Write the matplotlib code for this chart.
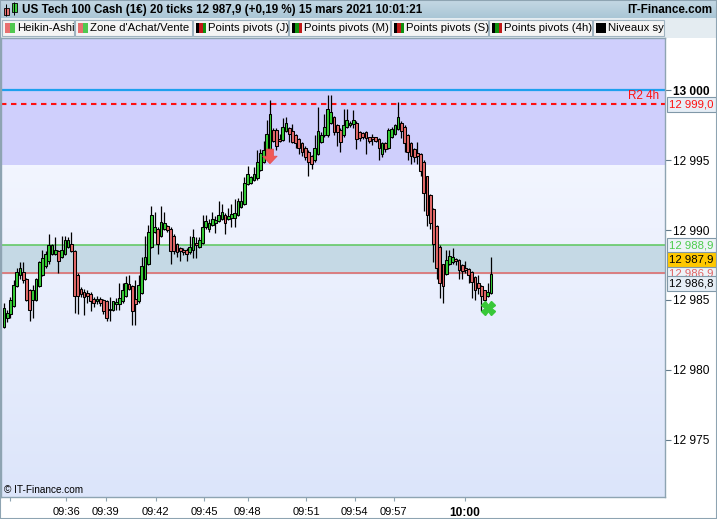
import matplotlib.pyplot as plt
import numpy as np
from matplotlib.patches import Rectangle

W, H = 717, 519
plt.rcParams['font.family'] = ['Liberation Sans', 'DejaVu Sans']

# Heikin-Ashi candles (20 ticks each)
candles = [
    (12983.1, 12984.8, 12983.0, 12984.4), (12983.7, 12984.3, 12983.4, 12984.1),
    (12984.0, 12985.2, 12983.7, 12985.0), (12984.6, 12986.4, 12984.5, 12986.1),
    (12986.0, 12987.3, 12985.9, 12987.0), (12986.8, 12987.7, 12986.5, 12987.3),
    (12987.0, 12987.7, 12986.2, 12986.4), (12986.5, 12986.6, 12984.9, 12985.0),
    (12985.7, 12985.8, 12983.5, 12984.3), (12985.0, 12986.1, 12983.7, 12985.7),
    (12985.0, 12986.6, 12984.9, 12986.5), (12986.0, 12987.8, 12985.9, 12987.7),
    (12986.8, 12988.6, 12986.7, 12988.0), (12987.4, 12988.5, 12987.3, 12988.3),
    (12987.8, 12989.7, 12987.6, 12988.9), (12988.3, 12989.0, 12988.2, 12988.9),
    (12988.3, 12989.5, 12988.2, 12988.6), (12988.5, 12988.6, 12986.9, 12987.8),
    (12988.1, 12989.6, 12988.0, 12988.6), (12988.3, 12989.6, 12988.2, 12989.3),
    (12988.8, 12989.5, 12988.7, 12989.3), (12989.0, 12989.9, 12988.4, 12988.5),
    (12988.5, 12988.6, 12984.1, 12985.3), (12986.8, 12986.9, 12984.0, 12985.3),
    (12985.8, 12985.9, 12985.2, 12985.4), (12985.6, 12985.8, 12983.9, 12985.2),
    (12985.5, 12985.7, 12984.8, 12985.3), (12985.4, 12985.6, 12984.2, 12984.9),
    (12985.1, 12985.2, 12984.5, 12984.8), (12984.9, 12985.3, 12984.7, 12985.1),
    (12985.1, 12985.2, 12984.6, 12984.8), (12985.0, 12985.1, 12984.0, 12984.2),
    (12984.9, 12985.0, 12983.5, 12983.7), (12984.3, 12985.2, 12983.5, 12984.35),
    (12984.3, 12984.95, 12984.2, 12984.9), (12984.7, 12985.15, 12984.3, 12984.85),
    (12984.7, 12986.2, 12984.3, 12985.15), (12984.9, 12986.2, 12984.8, 12985.75),
    (12985.3, 12986.7, 12985.2, 12986.2), (12986.15, 12986.8, 12985.7, 12985.8),
    (12986.0, 12986.1, 12983.2, 12984.2), (12985.1, 12986.4, 12983.2, 12984.7),
    (12984.9, 12986.8, 12984.8, 12986.1), (12985.5, 12988.1, 12985.4, 12987.4),
    (12986.5, 12989.6, 12986.4, 12988.1), (12987.6, 12990.4, 12987.5, 12989.9),
    (12988.8, 12991.7, 12988.7, 12991.05), (12989.9, 12991.3, 12989.8, 12990.2),
    (12990.1, 12990.2, 12988.3, 12989.0), (12989.6, 12991.7, 12989.5, 12990.6),
    (12990.1, 12991.3, 12990.0, 12990.5), (12990.3, 12990.4, 12989.9, 12990.0),
    (12990.1, 12990.2, 12987.55, 12988.5), (12989.6, 12989.7, 12988.3, 12988.5),
    (12989.0, 12989.1, 12988.1, 12988.4), (12988.7, 12988.8, 12987.8, 12988.5),
    (12988.6, 12988.7, 12988.2, 12988.45), (12988.6, 12988.7, 12987.8, 12988.3),
    (12988.4, 12989.6, 12988.3, 12988.8), (12988.6, 12990.1, 12988.0, 12989.5),
    (12989.1, 12989.5, 12988.0, 12988.9), (12988.8, 12989.5, 12988.7, 12989.3),
    (12989.1, 12991.1, 12989.0, 12990.2), (12990.2, 12991.1, 12990.1, 12990.65),
    (12990.05, 12990.8, 12989.9, 12990.5), (12990.4, 12991.3, 12990.3, 12990.8),
    (12990.5, 12991.0, 12989.8, 12990.7), (12990.65, 12992.1, 12990.6, 12991.1),
    (12990.8, 12991.9, 12990.7, 12991.3), (12991.1, 12991.2, 12989.75, 12990.5),
    (12990.8, 12991.6, 12990.7, 12991.0), (12990.9, 12991.9, 12990.2, 12991.15),
    (12990.9, 12992.2, 12990.2, 12991.2), (12991.1, 12992.3, 12991.0, 12992.1),
    (12991.65, 12992.8, 12991.6, 12992.1), (12991.85, 12993.8, 12991.8, 12993.4),
    (12993.3, 12994.6, 12993.2, 12994.0), (12993.35, 12993.9, 12993.3, 12993.8),
    (12993.6, 12994.55, 12993.5, 12994.0), (12993.7, 12995.7, 12993.6, 12994.85),
    (12994.3, 12995.8, 12994.2, 12995.55), (12994.9, 12996.4, 12994.8, 12995.7),
    (12995.3, 12997.85, 12995.2, 12996.9), (12995.8, 12999.3, 12995.7, 12998.3),
    (12997.2, 12997.3, 12996.3, 12996.4), (12997.2, 12997.3, 12995.7, 12996.0),
    (12996.55, 12996.9, 12996.3, 12996.4), (12996.45, 12998.0, 12996.4, 12997.35),
    (12997.1, 12998.1, 12997.0, 12997.7), (12997.3, 12997.4, 12996.3, 12996.9),
    (12997.1, 12997.6, 12996.2, 12996.3), (12996.8, 12996.9, 12995.85, 12996.2),
    (12996.5, 12996.6, 12995.45, 12995.9), (12996.2, 12996.3, 12995.3, 12995.6),
    (12995.9, 12996.0, 12995.0, 12995.2), (12995.6, 12995.7, 12993.9, 12994.85),
    (12995.3, 12995.4, 12994.4, 12994.75), (12995.0, 12996.8, 12994.9, 12995.9),
    (12995.45, 12998.8, 12995.4, 12997.1), (12996.3, 12997.0, 12996.2, 12996.8),
    (12996.8, 12998.3, 12996.7, 12997.4), (12996.8, 12999.7, 12996.7, 12998.7),
    (12997.7, 12999.7, 12997.6, 12998.45), (12998.1, 12998.2, 12996.8, 12997.05),
    (12997.5, 12997.6, 12996.05, 12997.0), (12997.2, 12997.3, 12995.6, 12996.3),
    (12996.8, 12998.7, 12996.7, 12997.5), (12997.4, 12998.7, 12997.3, 12997.9),
    (12997.5, 12997.8, 12997.4, 12997.7), (12997.6, 12998.6, 12997.3, 12997.85),
    (12997.7, 12997.8, 12995.8, 12996.5), (12997.0, 12997.1, 12996.4, 12996.6),
    (12996.95, 12997.0, 12996.5, 12996.7), (12997.0, 12997.1, 12995.45, 12996.6),
    (12996.65, 12996.7, 12996.2, 12996.4), (12996.65, 12996.9, 12996.1, 12996.5),
    (12996.65, 12996.7, 12996.3, 12996.4), (12996.5, 12996.6, 12995.0, 12995.9),
    (12995.45, 12996.3, 12995.2, 12996.2), (12996.2, 12996.3, 12995.6, 12995.8),
    (12995.86, 12997.3, 12995.8, 12997.2), (12996.65, 12997.35, 12996.6, 12997.25),
    (12996.9, 12997.6, 12996.8, 12997.5), (12997.25, 12999.2, 12997.2, 12998.1),
    (12997.7, 12997.8, 12996.6, 12997.1), (12997.4, 12997.5, 12995.6, 12996.2),
    (12996.8, 12996.9, 12995.0, 12995.6), (12996.2, 12996.3, 12994.75, 12995.3),
    (12995.8, 12995.9, 12994.85, 12995.2), (12995.5, 12996.3, 12994.75, 12995.3),
    (12995.45, 12995.5, 12993.85, 12994.25), (12994.9, 12995.0, 12991.4, 12992.65),
    (12993.85, 12993.9, 12990.3, 12991.1), (12992.5, 12992.6, 12990.1, 12990.5),
    (12991.5, 12991.6, 12987.7, 12989.0), (12990.3, 12990.4, 12986.5, 12987.3),
    (12988.8, 12988.9, 12985.15, 12986.2), (12987.55, 12987.6, 12984.75, 12986.0),
    (12986.83, 12988.6, 12986.8, 12987.86), (12987.55, 12988.6, 12987.5, 12988.15),
    (12987.7, 12988.75, 12987.6, 12988.05), (12987.9, 12988.0, 12987.5, 12987.8),
    (12987.86, 12987.9, 12986.47, 12987.14), (12987.5, 12987.55, 12986.5, 12987.07),
    (12987.3, 12987.8, 12986.9, 12987.15), (12987.24, 12987.3, 12986.2, 12986.76),
    (12987.0, 12987.1, 12985.15, 12986.3), (12986.66, 12986.7, 12985.0, 12985.75),
    (12986.2, 12986.8, 12985.4, 12985.85), (12986.0, 12986.1, 12984.2, 12985.3),
    (12985.7, 12985.75, 12984.7, 12985.0), (12985.3, 12986.2, 12985.2, 12985.6),
    (12985.5, 12988.1, 12985.4, 12986.83),
]
opens = [c[0] for c in candles]
highs = [c[1] for c in candles]
lows = [c[2] for c in candles]
closes = [c[3] for c in candles]

time_ticks = [1.9, 19.4, 31.7, 47.4, 62.4, 76.0, 94.4, 109.5, 121.6, 143.9]
time_labels = ['', '09:36', '09:39', '09:42', '09:45', '09:48', '09:51', '09:54', '09:57', '10:00']
price_ticks = [12975, 12980, 12985, 12990, 12995, 13000]

zone_edge = 12994.6          # lower edge of the sell zone
band_hi, band_lo = 12988.9, 12986.9
level_13000 = 13000.0
r2_4h = 12999.0
last_price = 12987.9
ha_close = 12986.8
sell_idx, sell_top, sell_bot = 83, 12995.8, 12994.75
buy_idx, buy_price = 151, 12984.4

fig = plt.figure(figsize=(W / 100, H / 100), dpi=100)
fig.patch.set_facecolor('white')


def px_axes(x0, y0, x1, y1):
    return fig.add_axes([x0 / W, 1 - y1 / H, (x1 - x0) / W, (y1 - y0) / H])


# ---- title bar
ah = px_axes(0, 0, W, 18)
ah.set_xlim(0, W)
ah.set_ylim(18, 0)
ah.axis('off')
grad = np.linspace(0, 1, 20)[:, None]
top_c = np.array([196, 216, 228]) / 255
bot_c = np.array([170, 198, 214]) / 255
ah.imshow(top_c + (bot_c - top_c) * grad[:, :, None], extent=[0, W, 18, 0], aspect='auto')
ah.vlines(6, 4, 16, color='black', lw=0.7)
ah.add_patch(Rectangle((3.5, 8), 5, 7, fc='#e87070', ec='black', lw=0.6))
ah.vlines(14, 1.5, 15, color='black', lw=0.7)
ah.add_patch(Rectangle((11.5, 3), 5, 9, fc='#40d040', ec='black', lw=0.6))
ah.text(22, 10, 'US Tech 100 Cash (1€) 20 ticks 12 987,9 (+0,19 %) 15 mars 2021 10:01:21',
        fontsize=8.4, fontweight='bold', va='center', ha='left')
ah.text(712, 10, 'IT-Finance.com', fontsize=8.4, fontweight='bold', va='center', ha='right')

# ---- indicator toolbar
at = px_axes(0, 18, W, 38)
at.set_xlim(0, W)
at.set_ylim(38, 18)
at.axis('off')
at.add_patch(Rectangle((0, 18), W, 20, fc='#e4ecf1', ec='none'))
buttons = [
    (2, 74, 'Heikin-Ashi', ['#e87070', '#50c850']),
    (75, 192, "Zone d'Achat/Vente", ['#e87070', '#50c850']),
    (193, 288, 'Points pivots (J)', ['black', '#c01818', '#109010']),
    (289, 390, 'Points pivots (M)', ['black', '#109010', '#c01818']),
    (391, 488, 'Points pivots (S)', ['black', '#c01818', '#109010']),
    (489, 592, 'Points pivots (4h)', ['black', '#109010', '#c01818']),
    (593, 664, 'Niveaux sy', ['black']),
]
for x0, x1, name, cols in buttons:
    at.add_patch(Rectangle((x0, 19.5), x1 - x0, 16, fc='#f4f4f4', ec='#9fb3c0', lw=0.8))
    w = 10 / len(cols)
    for k, c in enumerate(cols):
        at.add_patch(Rectangle((x0 + 3 + k * w, 22.5), w, 10, fc=c, ec='none'))
    at.text(x0 + 15, 28, name, fontsize=8.2, va='center', ha='left', clip_on=True)

# ---- main chart
ax = px_axes(1, 38, 665, 497)
n = len(candles)
xs = np.arange(n)
x_lo, x_hi = -0.94, 206.3
y_lo, y_hi = 12970.9, 13003.75
ax.set_xlim(x_lo, x_hi)
ax.set_ylim(y_lo, y_hi)

ax.axhspan(zone_edge, y_hi, color='#cfcffc', zorder=0)
lc_top = np.array([242, 245, 255]) / 255
lc_bot = np.array([220, 229, 250]) / 255
g = np.linspace(0, 1, 100)[:, None]
ax.imshow(lc_top + (lc_bot - lc_top) * g[:, :, None],
          extent=[x_lo, x_hi, y_lo, zone_edge], aspect='auto', zorder=0)
ax.axhspan(band_lo, band_hi, color='#c5d9e5', zorder=1)
ax.axhline(band_hi, color='#5cc85c', lw=1.1, zorder=2)
ax.axhline(band_lo, color='#e06464', lw=1.1, zorder=2)
ax.axhline(level_13000, color='#1ea0ee', lw=1.6, zorder=2)
ax.axhline(r2_4h, color='#ff1010', lw=1.5, dashes=(2.6, 2.2), zorder=2)
ax.text(x_hi - 1.8, r2_4h + 0.15, 'R2 4h', color='#ff1010', fontsize=8.4,
        ha='right', va='bottom', zorder=3)

body_lo = [min(o, c) for o, c in zip(opens, closes)]
body_h = [abs(c - o) for o, c in zip(opens, closes)]
colors = ['#36cc36' if c >= o else '#e46a6a' for o, c in zip(opens, closes)]
ax.vlines(xs, lows, highs, color='black', lw=0.9, zorder=4)
ax.bar(xs, body_h, bottom=body_lo, width=0.86, color=colors,
       edgecolor='black', linewidth=0.75, zorder=5)

# sell signal (down arrow) and buy signal (green cross)
ax.annotate('', xy=(sell_idx, sell_bot), xytext=(sell_idx, sell_top),
            arrowprops=dict(arrowstyle='simple,head_length=0.42,head_width=0.8,tail_width=0.4',
                            fc='#f05858', ec='#e44c4c', lw=0.5, mutation_scale=13,
                            shrinkA=0, shrinkB=0),
            zorder=6)
ax.plot([buy_idx], [buy_price], marker='X', ms=9.5, color='#38c838', mec='#38c838', zorder=6)

ax.text(0.004, 0.004, '© IT-Finance.com', transform=ax.transAxes, fontsize=7.2,
        ha='left', va='bottom', zorder=6)

for s in ax.spines.values():
    s.set_color('#8ea4b2')
    s.set_linewidth(1)

ax.set_xticks(time_ticks)
ax.set_xticklabels(time_labels)
ax.tick_params(axis='x', direction='out', length=3, pad=4, labelsize=8,
               color='#8ea4b2')
for lab in ax.get_xticklabels():
    if lab.get_text() == '10:00':
        lab.set_fontweight('bold')
        lab.set_fontsize(8.6)

ax.yaxis.tick_right()
ax.set_yticks(price_ticks)
ax.set_yticklabels([f'{p:,}'.replace(',', ' ') for p in price_ticks])
ax.tick_params(axis='y', direction='out', length=4, pad=1.5, labelsize=8.6,
               color='#607888')
for lab in ax.get_yticklabels():
    if lab.get_text() == '13 000':
        lab.set_fontweight('bold')


def price_box(y, text, fc, tc, z):
    ax.annotate(text, xy=(1.0, y), xycoords=('axes fraction', 'data'),
                xytext=(3.2, 0), textcoords='offset points', fontsize=8.2,
                color=tc, va='center', ha='left', annotation_clip=False, zorder=z,
                bbox=dict(boxstyle='square,pad=0.2', fc=fc, ec='#8098a8', lw=0.8))


def fmt(v):
    return f'{v:,.1f}'.replace(',', ' ').replace('.', ',')


price_box(r2_4h, fmt(r2_4h), '#e6eef6', '#ff1010', 10)
price_box(band_hi, fmt(band_hi), '#eef3f8', '#4ccc4c', 10)
price_box(band_lo, fmt(band_lo), '#eef3f8', '#e06464', 10)
price_box(last_price, fmt(last_price), '#ffc800', 'black', 11)
price_box(ha_close - 0.62, fmt(ha_close), '#e6eef6', 'black', 12)

# outer frame
fig.add_artist(Rectangle((0, 0), 1, 1, transform=fig.transFigure, fill=False,
                         ec='#8ea4b2', lw=1.5))

fig.savefig('out.png', dpi=100)
